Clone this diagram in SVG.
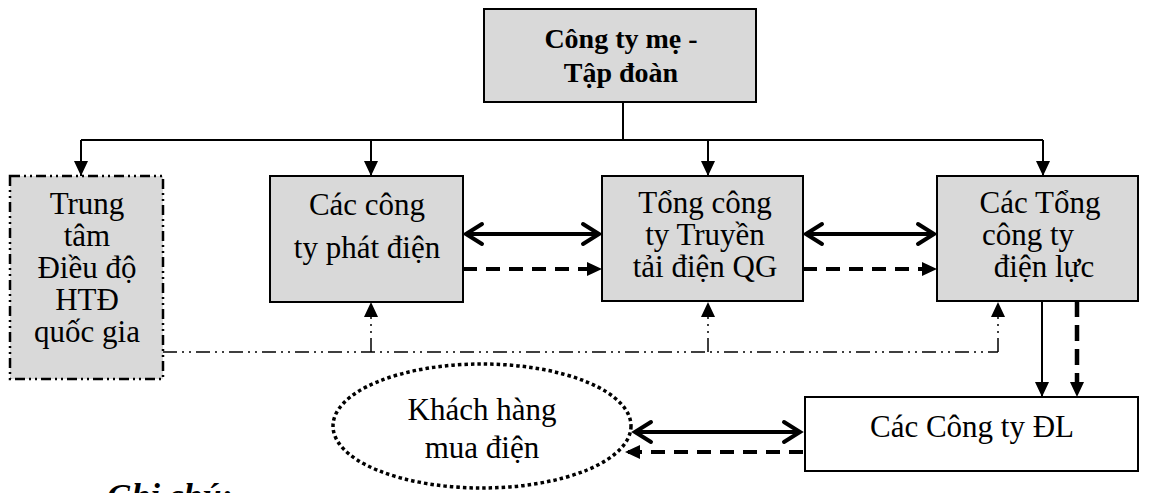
<svg xmlns="http://www.w3.org/2000/svg" width="1162" height="493" viewBox="0 0 1162 493">
<style>
.box{fill:#d9d9d9;stroke:#000;stroke-width:2}
.wbox{fill:#fff;stroke:#000;stroke-width:2}
.t{font-family:"Liberation Serif","Times New Roman",serif;font-size:31px;fill:#000;text-anchor:middle}
.tb{font-family:"Liberation Serif","Times New Roman",serif;font-size:28px;font-weight:bold;fill:#000;text-anchor:middle}
.thin{fill:none;stroke:#000;stroke-width:2}
.dbl{fill:none;stroke:#000;stroke-width:4}
.dash{fill:none;stroke:#000;stroke-width:4;stroke-dasharray:14 9}
.ddot{fill:none;stroke:#000;stroke-width:1.5;stroke-dasharray:14 5 2 5 2 5}
</style>
<defs>
<marker id="tri" viewBox="0 0 15 14" refX="15" refY="7" markerWidth="15" markerHeight="14" markerUnits="userSpaceOnUse" orient="auto"><path d="M0,0 L15,7 L0,14 z" fill="#000"/></marker>
<marker id="chev" viewBox="-20 -13 24 26" refX="0" refY="0" markerWidth="24" markerHeight="26" markerUnits="userSpaceOnUse" orient="auto-start-reverse"><path d="M-16,-10 L0,0 L-16,10" fill="none" stroke="#000" stroke-width="4" stroke-linecap="round"/></marker>
</defs>

<g id="n-tapdoan">
<rect class="box" x="484" y="9" width="272" height="93"/>
<text class="tb" x="621" y="48">Công ty mẹ -</text>
<text class="tb" x="621" y="82">Tập đoàn</text>
</g>

<g id="n-dieudo">
<rect x="10" y="176" width="153" height="203" fill="#d9d9d9" stroke="#000" stroke-width="2.5" stroke-dasharray="10 4 2 4 2 4"/>
<text class="t" x="87" y="214">Trung</text>
<text class="t" x="87" y="246">tâm</text>
<text class="t" x="87" y="278">Điều độ</text>
<text class="t" x="87" y="310">HTĐ</text>
<text class="t" x="87" y="342">quốc gia</text>
</g>

<g id="n-phatdien">
<rect class="box" x="270" y="176" width="193" height="126"/>
<text class="t" x="367" y="215">Các công</text>
<text class="t" x="367" y="258">ty phát điện</text>
</g>

<g id="n-truyentai">
<rect class="box" x="602" y="176" width="201" height="125"/>
<text class="t" x="705" y="213">Tổng công</text>
<text class="t" x="705" y="245">ty Truyền</text>
<text class="t" x="705" y="277">tải điện QG</text>
</g>

<g id="n-dienluc">
<rect class="box" x="937" y="176" width="201" height="125"/>
<text class="t" x="1040" y="213">Các Tổng</text>
<text class="t" x="1028" y="245">công ty</text>
<text class="t" x="1044" y="277">điện lực</text>
</g>

<g id="n-congtydl">
<rect class="wbox" x="805" y="397" width="333" height="74"/>
<text class="t" x="972" y="437">Các Công ty ĐL</text>
</g>

<g id="n-khachhang">
<ellipse cx="482" cy="426" rx="149" ry="62" fill="none" stroke="#000" stroke-width="3.5" stroke-dasharray="3.5 3"/>
<text class="t" x="482" y="420">Khách hàng</text>
<text class="t" x="482" y="458">mua điện</text>
</g>

<g id="connectors">
<path class="thin" d="M623,102 V140 M81,140 H1043"/>
<path class="thin" d="M81,140 V176" marker-end="url(#tri)"/>
<path class="thin" d="M371,140 V176" marker-end="url(#tri)"/>
<path class="thin" d="M708,140 V176" marker-end="url(#tri)"/>
<path class="thin" d="M1043,140 V176" marker-end="url(#tri)"/>

<path class="dbl" d="M466,234 H599" marker-start="url(#chev)" marker-end="url(#chev)"/>
<path class="dbl" d="M806,234 H934" marker-start="url(#chev)" marker-end="url(#chev)"/>
<path class="dbl" d="M635,432 H800" marker-start="url(#chev)" marker-end="url(#chev)"/>

<path class="dash" d="M463,269 H602" marker-end="url(#tri)"/>
<path class="dash" d="M803,269 H937" marker-end="url(#tri)"/>
<path class="dash" d="M803,452 H625" marker-end="url(#tri)"/>

<path class="thin" d="M1042,301 V397" marker-end="url(#tri)"/>
<path fill="none" stroke="#000" stroke-width="4.5" stroke-dasharray="16 8" d="M1077,301 V397" marker-end="url(#tri)"/>

<path class="ddot" d="M163,352 H998"/>
<path class="ddot" d="M371,352 V302" marker-end="url(#tri)"/>
<path class="ddot" d="M708,352 V302" marker-end="url(#tri)"/>
<path class="ddot" d="M998,352 V302" marker-end="url(#tri)"/>
</g>

<text x="107" y="507" font-family="'Liberation Serif','Times New Roman',serif" font-size="34" font-weight="bold" font-style="italic" fill="#000">Ghi chú:</text>
</svg>
